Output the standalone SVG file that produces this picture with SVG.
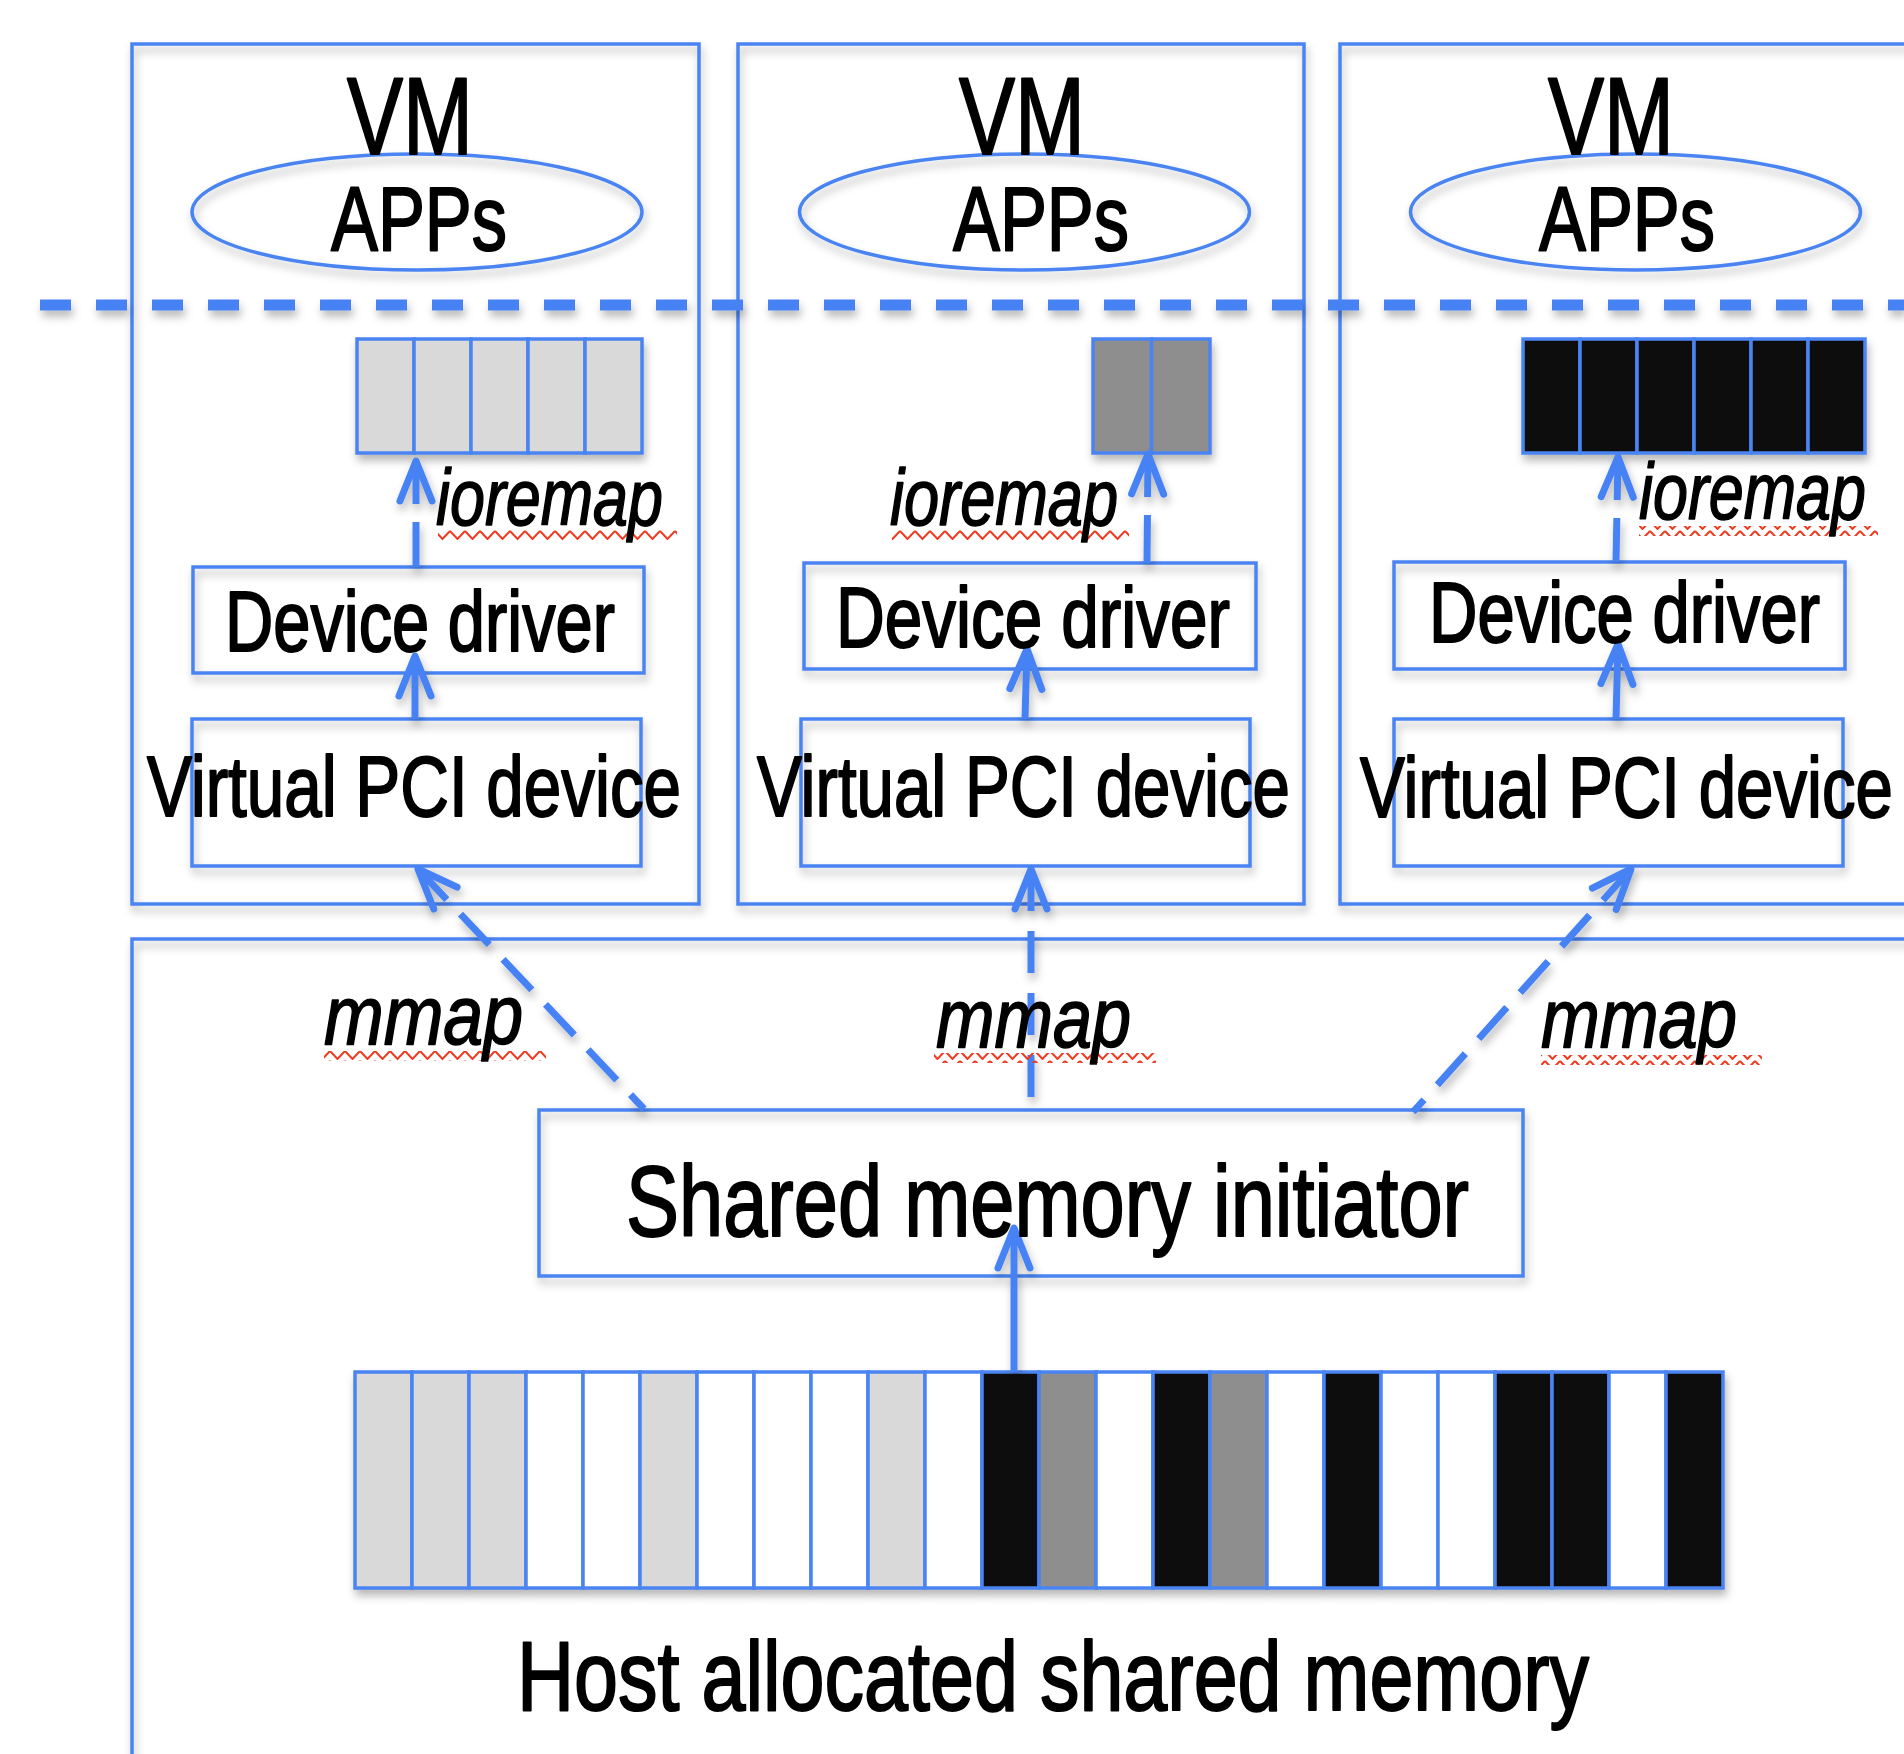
<svg xmlns="http://www.w3.org/2000/svg" width="1904" height="1754" viewBox="0 0 1904 1754">
<defs>
<style>
.box{fill:none;stroke:#4a84f2;stroke-width:3.5}
.cell{stroke:#4a84f2;stroke-width:3.5}
.lg{fill:#d9d9d9}.gr{fill:#8e8e8e}.bk{fill:#111111}.wh{fill:#ffffff}
.t{font-family:"Liberation Sans",Arial,Helvetica,sans-serif;fill:#000000;stroke:#000000;stroke-width:2;stroke-linejoin:round}
.it{font-style:italic;stroke-width:1.6}
.conn{fill:none;stroke:#4682f5;stroke-width:7;stroke-linecap:butt}
.dio{stroke-dasharray:43 18 60}
.dmm{stroke-dasharray:42 20}
.sq{fill:url(#squig)}
</style>
<filter id="sh" filterUnits="userSpaceOnUse" x="0" y="0" width="1904" height="1754"><feDropShadow dx="2" dy="6" stdDeviation="4" flood-color="#000000" flood-opacity="0.28"/></filter>
<marker id="ah" markerUnits="userSpaceOnUse" markerWidth="60" markerHeight="50" viewBox="-50 -25 60 50" refX="0" refY="0" orient="auto-start-reverse" overflow="visible"><path d="M-40 -16 L0 0 L-40 16" fill="none" stroke="#4682f5" stroke-width="7" stroke-linecap="round" stroke-linejoin="round"/></marker>
<pattern id="squig" patternUnits="userSpaceOnUse" width="15" height="10"><path d="M0 1 L7.5 9 L15 1" fill="none" stroke="#ee3b20" stroke-width="2"/></pattern>
</defs>
<rect width="1904" height="1754" fill="#ffffff"/>

<g id="vm1" filter="url(#sh)"><rect class="box" x="132" y="44" width="567" height="860"/></g>
<g id="vm2" filter="url(#sh)"><rect class="box" x="738" y="44" width="566" height="860"/></g>
<g id="vm3" filter="url(#sh)"><rect class="box" x="1340" y="44" width="600" height="860"/></g>
<g id="host" filter="url(#sh)"><rect class="box" x="132" y="939" width="1800" height="900"/></g>

<g id="boundary" filter="url(#sh)"><line x1="40" y1="305" x2="1904" y2="305" stroke="#4682f5" stroke-width="11" stroke-dasharray="31 25"/></g>

<g id="apps1" filter="url(#sh)"><ellipse class="box" cx="417" cy="212" rx="225" ry="58"/></g>
<g id="apps2" filter="url(#sh)"><ellipse class="box" cx="1024.5" cy="212" rx="225" ry="58"/></g>
<g id="apps3" filter="url(#sh)"><ellipse class="box" cx="1635.5" cy="212" rx="225" ry="58"/></g>

<g id="vmmem1" filter="url(#sh)">
<rect class="cell lg" x="357" y="339" width="57" height="114"/>
<rect class="cell lg" x="414" y="339" width="57" height="114"/>
<rect class="cell lg" x="471" y="339" width="57" height="114"/>
<rect class="cell lg" x="528" y="339" width="57" height="114"/>
<rect class="cell lg" x="585" y="339" width="57" height="114"/>
</g>
<g id="vmmem2" filter="url(#sh)">
<rect class="cell gr" x="1093" y="339" width="58.5" height="114"/>
<rect class="cell gr" x="1151.5" y="339" width="58.5" height="114"/>
</g>
<g id="vmmem3" filter="url(#sh)">
<rect class="cell bk" x="1523" y="339" width="57" height="114"/>
<rect class="cell bk" x="1580" y="339" width="57" height="114"/>
<rect class="cell bk" x="1637" y="339" width="57" height="114"/>
<rect class="cell bk" x="1694" y="339" width="57" height="114"/>
<rect class="cell bk" x="1751" y="339" width="57" height="114"/>
<rect class="cell bk" x="1808" y="339" width="57" height="114"/>
</g>

<g id="dd1" filter="url(#sh)"><rect class="box" x="193" y="567" width="451" height="106"/></g>
<g id="dd2" filter="url(#sh)"><rect class="box" x="804" y="563" width="452" height="106"/></g>
<g id="dd3" filter="url(#sh)"><rect class="box" x="1394" y="562" width="451" height="107"/></g>
<g id="vpd1" filter="url(#sh)"><rect class="box" x="192" y="719" width="449" height="147"/></g>
<g id="vpd2" filter="url(#sh)"><rect class="box" x="801" y="719" width="449" height="147"/></g>
<g id="vpd3" filter="url(#sh)"><rect class="box" x="1394" y="719" width="449" height="147"/></g>
<g id="smi" filter="url(#sh)"><rect class="box" x="539" y="1110" width="984" height="166"/></g>

<g id="hostmem" filter="url(#sh)">
<rect class="cell lg" x="355" y="1372" width="57" height="216"/>
<rect class="cell lg" x="412" y="1372" width="57" height="216"/>
<rect class="cell lg" x="469" y="1372" width="57" height="216"/>
<rect class="cell wh" x="526" y="1372" width="57" height="216"/>
<rect class="cell wh" x="583" y="1372" width="57" height="216"/>
<rect class="cell lg" x="640" y="1372" width="57" height="216"/>
<rect class="cell wh" x="697" y="1372" width="57" height="216"/>
<rect class="cell wh" x="754" y="1372" width="57" height="216"/>
<rect class="cell wh" x="811" y="1372" width="57" height="216"/>
<rect class="cell lg" x="868" y="1372" width="57" height="216"/>
<rect class="cell wh" x="925" y="1372" width="57" height="216"/>
<rect class="cell bk" x="982" y="1372" width="57" height="216"/>
<rect class="cell gr" x="1039" y="1372" width="57" height="216"/>
<rect class="cell wh" x="1096" y="1372" width="57" height="216"/>
<rect class="cell bk" x="1153" y="1372" width="57" height="216"/>
<rect class="cell gr" x="1210" y="1372" width="57" height="216"/>
<rect class="cell wh" x="1267" y="1372" width="57" height="216"/>
<rect class="cell bk" x="1324" y="1372" width="57" height="216"/>
<rect class="cell wh" x="1381" y="1372" width="57" height="216"/>
<rect class="cell wh" x="1438" y="1372" width="57" height="216"/>
<rect class="cell bk" x="1495" y="1372" width="57" height="216"/>
<rect class="cell bk" x="1552" y="1372" width="57" height="216"/>
<rect class="cell wh" x="1609" y="1372" width="57" height="216"/>
<rect class="cell bk" x="1666" y="1372" width="57" height="216"/>
</g>

<g id="connectors" filter="url(#sh)">
<path class="conn dio" d="M416 461 L416 567" marker-start="url(#ah)"/>
<path class="conn dio" d="M1148 454 L1147 563" marker-start="url(#ah)"/>
<path class="conn dio" d="M1618 457 L1616 562" marker-start="url(#ah)"/>
<path class="conn" d="M415 719 L415 656" marker-end="url(#ah)"/>
<path class="conn" d="M1025 719 L1027 649" marker-end="url(#ah)"/>
<path class="conn" d="M1616 719 L1618 644" marker-end="url(#ah)"/>
<path class="conn dmm" d="M418 869 L644 1109" marker-start="url(#ah)"/>
<path class="conn dmm" d="M1031 869 L1031 1109" marker-start="url(#ah)"/>
<path class="conn dmm" d="M1631 869 L1413 1112" marker-start="url(#ah)"/>
<path class="conn" d="M1014 1372 L1014 1228" marker-end="url(#ah)"/>
</g>

<g id="squiggles">
<rect class="sq" x="438" y="530" width="239" height="10"/>
<rect class="sq" x="892" y="530" width="237" height="10"/>
<rect class="sq" x="1639" y="526" width="239" height="10"/>
<rect class="sq" x="324" y="1051" width="222" height="10"/>
<rect class="sq" x="934" y="1053" width="222" height="10"/>
<rect class="sq" x="1541" y="1055" width="221" height="10"/>
</g>

<g id="labels">
<text class="t" x="347" y="153.6" font-size="110" textLength="126" lengthAdjust="spacingAndGlyphs">VM</text>
<text class="t" x="959" y="153.6" font-size="110" textLength="126" lengthAdjust="spacingAndGlyphs">VM</text>
<text class="t" x="1548" y="153.6" font-size="110" textLength="126" lengthAdjust="spacingAndGlyphs">VM</text>
<text class="t" x="331" y="250" font-size="90" textLength="176" lengthAdjust="spacingAndGlyphs">APPs</text>
<text class="t" x="953" y="250" font-size="90" textLength="176" lengthAdjust="spacingAndGlyphs">APPs</text>
<text class="t" x="1539" y="250" font-size="90" textLength="176" lengthAdjust="spacingAndGlyphs">APPs</text>
<text class="t it" x="436" y="525" font-size="80" textLength="227" lengthAdjust="spacingAndGlyphs">ioremap</text>
<text class="t it" x="890" y="525" font-size="80" textLength="228" lengthAdjust="spacingAndGlyphs">ioremap</text>
<text class="t it" x="1639" y="519" font-size="80" textLength="227" lengthAdjust="spacingAndGlyphs">ioremap</text>
<text class="t" x="225" y="651" font-size="85" textLength="390" lengthAdjust="spacingAndGlyphs">Device driver</text>
<text class="t" x="836" y="647" font-size="85" textLength="394" lengthAdjust="spacingAndGlyphs">Device driver</text>
<text class="t" x="1429" y="642" font-size="85" textLength="391" lengthAdjust="spacingAndGlyphs">Device driver</text>
<text class="t" x="147" y="816" font-size="86" textLength="534" lengthAdjust="spacingAndGlyphs">Virtual PCI device</text>
<text class="t" x="757" y="816" font-size="86" textLength="533" lengthAdjust="spacingAndGlyphs">Virtual PCI device</text>
<text class="t" x="1360" y="817" font-size="86" textLength="533" lengthAdjust="spacingAndGlyphs">Virtual PCI device</text>
<text class="t it" x="324" y="1044" font-size="83" textLength="199" lengthAdjust="spacingAndGlyphs">mmap</text>
<text class="t it" x="936" y="1047" font-size="83" textLength="195" lengthAdjust="spacingAndGlyphs">mmap</text>
<text class="t it" x="1541" y="1047" font-size="83" textLength="196" lengthAdjust="spacingAndGlyphs">mmap</text>
<text class="t" x="626" y="1236" font-size="100" textLength="843" lengthAdjust="spacingAndGlyphs">Shared memory initiator</text>
<text class="t" x="517" y="1710" font-size="99" textLength="1072" lengthAdjust="spacingAndGlyphs">Host allocated shared memory</text>
</g>
</svg>
